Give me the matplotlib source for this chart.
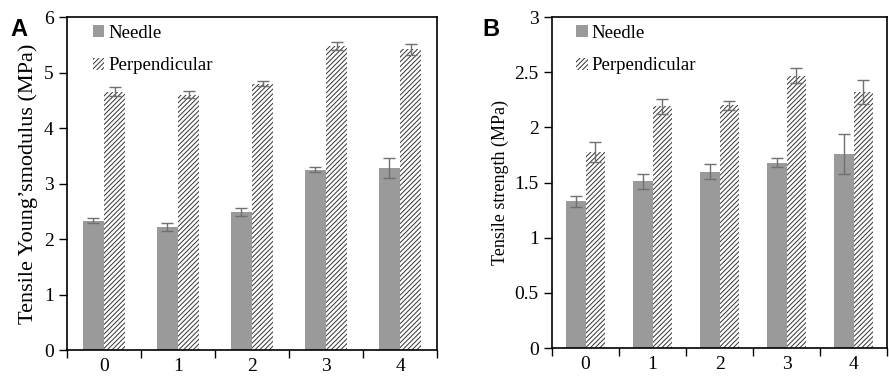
import numpy as np
import matplotlib.pyplot as plt

plt.rcParams['font.family'] = ['Liberation Serif', 'DejaVu Serif']
plt.rcParams['hatch.linewidth'] = 0.7

# Datos
categorias = ['0', '1', '2', '3', '4']
series = ['Needle', 'Perpendicular']

modulo_needle = [2.33, 2.22, 2.48, 3.25, 3.28]
modulo_needle_err = [0.05, 0.07, 0.07, 0.04, 0.18]
modulo_perp = [4.65, 4.60, 4.80, 5.48, 5.42]
modulo_perp_err = [0.08, 0.06, 0.04, 0.07, 0.10]

resist_needle = [1.33, 1.51, 1.60, 1.68, 1.76]
resist_needle_err = [0.05, 0.07, 0.07, 0.04, 0.18]
resist_perp = [1.78, 2.19, 2.20, 2.47, 2.32]
resist_perp_err = [0.09, 0.07, 0.04, 0.07, 0.11]

gris = '#9a9a9a'
gris_err = '#707070'
ancho = 0.29

fig = plt.figure(figsize=(8.89, 3.78), dpi=100)
axA = fig.add_axes([0.0754, 0.074, 0.4162, 0.881])
axB = fig.add_axes([0.621, 0.079, 0.377, 0.876])


def dibujar(ax, needle, needle_err, perp, perp_err, ymax, paso, ylabel, ylabel_size):
    x = np.arange(len(categorias))
    ax.bar(x - ancho / 2, needle, ancho, color=gris, label=series[0],
           yerr=needle_err, ecolor=gris_err,
           error_kw=dict(capsize=4, elinewidth=1, capthick=1))
    ax.bar(x + ancho / 2, perp, ancho, color='white', edgecolor='#333333',
           linewidth=0, hatch='///////', label=series[1],
           yerr=perp_err, ecolor=gris_err,
           error_kw=dict(capsize=4, elinewidth=1, capthick=1))
    ax.set_xlim(-0.5, len(categorias) - 0.5)
    ax.set_ylim(0, ymax)
    ax.set_yticks(np.arange(0, ymax + paso / 2, paso))
    ax.set_yticklabels([f'{v:g}' for v in np.arange(0, ymax + paso / 2, paso)])
    ax.set_xticks(x)
    ax.set_xticklabels(categorias)
    ax.set_xticks(np.arange(-0.5, len(categorias)), minor=True)
    ax.tick_params(axis='x', which='major', length=0, labelsize=14, pad=6)
    ax.tick_params(axis='x', which='minor', length=6, width=1, direction='out')
    ax.tick_params(axis='y', length=6, width=1, direction='out', labelsize=14)
    for s in ax.spines.values():
        s.set_linewidth(1.2)
    ax.set_ylabel(ylabel, fontsize=ylabel_size, labelpad=4)
    leg = ax.legend(loc='upper left', frameon=False, fontsize=13.5,
                    handlelength=0.6, handleheight=0.6, handletextpad=0.2,
                    labelspacing=0.85, borderaxespad=0.0,
                    bbox_to_anchor=(0.05, 1.0))
    return leg


dibujar(axA, modulo_needle, modulo_needle_err, modulo_perp, modulo_perp_err,
        6, 1, 'Tensile Young’smodulus (MPa)', 16)
dibujar(axB, resist_needle, resist_needle_err, resist_perp, resist_perp_err,
        3, 0.5, 'Tensile strength (MPa)', 13)

fig.text(0.012, 0.905, 'A', fontsize=17, fontweight='bold', family='Liberation Sans')
fig.text(0.543, 0.905, 'B', fontsize=17, fontweight='bold', family='Liberation Sans')

fig.savefig('out.png', dpi=100)
